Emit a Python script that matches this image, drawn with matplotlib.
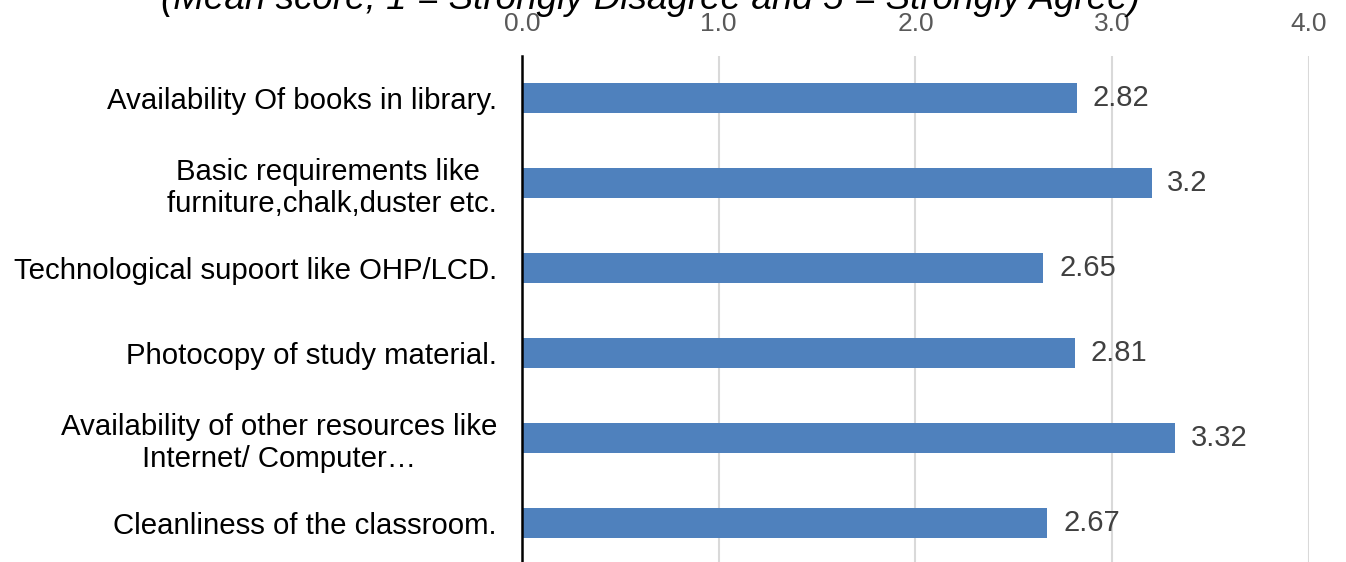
import matplotlib
matplotlib.use("Agg")
import matplotlib.pyplot as plt

plt.rcParams["font.family"] = ["Liberation Sans", "DejaVu Sans"]

categories = [
    "Availability Of books in library.",
    "Basic requirements like \nfurniture,chalk,duster etc.",
    "Technological supoort like OHP/LCD.",
    "Photocopy of study material.",
    "Availability of other resources like\nInternet/ Computer…",
    "Cleanliness of the classroom.",
]
scores = [2.82, 3.2, 2.65, 2.81, 3.32, 2.67]
xticks = [0.0, 1.0, 2.0, 3.0, 4.0]
title = "(Mean score, 1 = Strongly Disagree and 5 = Strongly Agree)"

fig = plt.figure(figsize=(13.46, 5.62), dpi=100)
ax = fig.add_axes([0.3878, -0.006, 0.5847, 0.907])

ypos = list(range(len(categories)))
ax.barh(ypos, scores, height=0.35, color="#4F81BD", zorder=3)

# value labels right of each bar
for y, v in zip(ypos, scores):
    ax.text(v + 0.08, y, f"{v:g}", va="center", ha="left",
            fontsize=21, color="#404040")

ax.set_xlim(0, 4)
ax.set_ylim(len(categories) - 0.5, -0.5)
ax.set_xticks(xticks)
ax.set_xticklabels([f"{t:.1f}" for t in xticks])
ax.xaxis.tick_top()
ax.tick_params(axis="x", length=0, pad=14, labelsize=19, labelcolor="#595959")
ax.set_yticks(ypos)
ax.set_yticklabels(categories, fontsize=21.2, multialignment="center")
ax.tick_params(axis="y", length=0, pad=18)

ax.grid(axis="x", color="#D9D9D9", linewidth=1.5, zorder=0)
for s in ["top", "right", "bottom"]:
    ax.spines[s].set_visible(False)
ax.spines["left"].set_color("black")
ax.spines["left"].set_linewidth(1.8)
ax.spines["left"].set_zorder(4)

fig.text(0.483, 1 - 9 / 562, title, ha="center", va="baseline",
         fontsize=26.5, style="italic", color="black")

fig.savefig("out.png", dpi=100)
